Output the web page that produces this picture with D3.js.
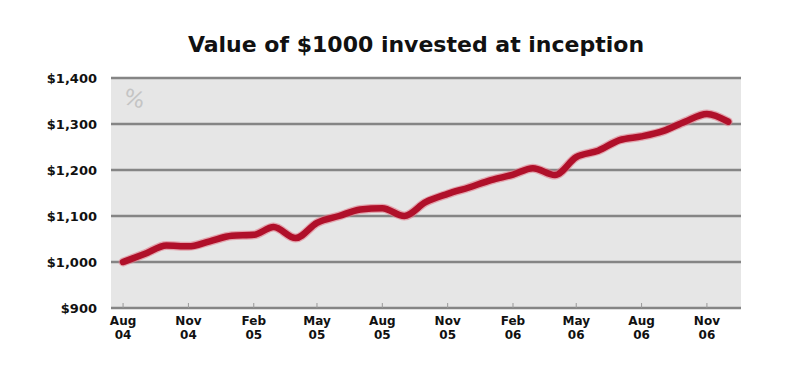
<!DOCTYPE html>
<html>
<head>
<meta charset="utf-8">
<script src="https://cdn.jsdelivr.net/npm/d3@7"></script>
<style>
  body { margin: 0; background: #fff; }
  text { font-family: "DejaVu Sans", sans-serif; }
</style>
</head>
<body>
<div id="chart"></div>
<script>
// month of each point (YYYY-MM) and fund value
const months = ["2004-08","2004-09","2004-10","2004-11","2004-12","2005-01","2005-02","2005-03",
  "2005-04","2005-05","2005-06","2005-07","2005-08","2005-09","2005-10","2005-11","2005-12",
  "2006-01","2006-02","2006-03","2006-04","2006-05","2006-06","2006-07","2006-08","2006-09",
  "2006-10","2006-11","2006-12"];
const values = [1000,1018,1036,1034,1045,1057,1059,1076,1052,1085,1100,1114,1117,1100,1130,1148,
  1162,1178,1190,1204,1189,1228,1242,1265,1273,1285,1305,1322,1305];
const tickMonths = ["2004-08","2004-11","2005-02","2005-05","2005-08","2005-11","2006-02","2006-05","2006-08","2006-11"];
const tickLabels = [["Aug","04"],["Nov","04"],["Feb","05"],["May","05"],["Aug","05"],
  ["Nov","05"],["Feb","06"],["May","06"],["Aug","06"],["Nov","06"]];
const yTicks = [900,1000,1100,1200,1300,1400];

const width = 800, height = 376;
const m = { left: 111, right: 741, top: 78, bottom: 308 };
const parse = d3.timeParse("%Y-%m");

const svg = d3.select("#chart").append("svg")
  .attr("width", width).attr("height", height);

const x = d3.scaleTime()
  .domain([new Date(2004, 6, 15), new Date(2006, 11, 19)])
  .range([m.left, m.right]);
const y = d3.scaleLinear().domain([900, 1400]).range([m.bottom, m.top]);

// title
svg.append("text")
  .attr("x", 416).attr("y", 52)
  .attr("text-anchor", "middle")
  .attr("font-size", 22).attr("font-weight", "bold")
  .attr("fill", "#111")
  .text("Value of $1000 invested at inception");

// plot background
svg.append("rect")
  .attr("x", m.left).attr("y", m.top)
  .attr("width", m.right - m.left).attr("height", m.bottom - m.top)
  .attr("fill", "#e6e6e6");

// watermark
svg.append("text")
  .attr("x", 124).attr("y", 106)
  .attr("font-size", 22).attr("fill", "#c4c4c4")
  .attr("transform", "rotate(15,134,98)")
  .text("%");

// gridlines
svg.selectAll("line.grid").data(yTicks).join("line")
  .attr("class", "grid")
  .attr("x1", m.left).attr("x2", m.right)
  .attr("y1", d => y(d)).attr("y2", d => y(d))
  .attr("stroke", "#858585").attr("stroke-width", 2.5);

// y labels
svg.selectAll("text.ylab").data(yTicks).join("text")
  .attr("class", "ylab")
  .attr("x", 97).attr("y", d => y(d) + 5)
  .attr("text-anchor", "end")
  .attr("font-size", 13).attr("font-weight", "bold")
  .attr("fill", "#111")
  .text(d => "$" + d3.format(",")(d));

// x ticks
svg.selectAll("line.xtick").data(tickMonths).join("line")
  .attr("class", "xtick")
  .attr("x1", d => x(parse(d))).attr("x2", d => x(parse(d)))
  .attr("y1", m.bottom).attr("y2", m.bottom - 5)
  .attr("stroke", "#999").attr("stroke-width", 1);

const xl = svg.selectAll("text.xlab").data(tickMonths).join("text")
  .attr("class", "xlab")
  .attr("text-anchor", "middle")
  .attr("font-size", 12).attr("font-weight", "bold")
  .attr("fill", "#111");
xl.append("tspan")
  .attr("x", d => x(parse(d))).attr("y", 325)
  .text((d, i) => tickLabels[i][0]);
xl.append("tspan")
  .attr("x", d => x(parse(d))).attr("y", 339)
  .text((d, i) => tickLabels[i][1]);

// value line
const pts = months.map((mo, i) => ({ date: parse(mo), value: values[i] }));
const line = d3.line().curve(d3.curveMonotoneX)
  .x(d => x(d.date)).y(d => y(d.value));

svg.append("path").datum(pts)
  .attr("d", line).attr("fill", "none")
  .attr("stroke", "#e07a88").attr("stroke-width", 9)
  .attr("stroke-linejoin", "round").attr("stroke-linecap", "round")
  .attr("opacity", 0.6);
svg.append("path").datum(pts)
  .attr("d", line).attr("fill", "none")
  .attr("stroke", "#b0102a").attr("stroke-width", 6.5)
  .attr("stroke-linejoin", "round").attr("stroke-linecap", "round");
</script>
</body>
</html>
